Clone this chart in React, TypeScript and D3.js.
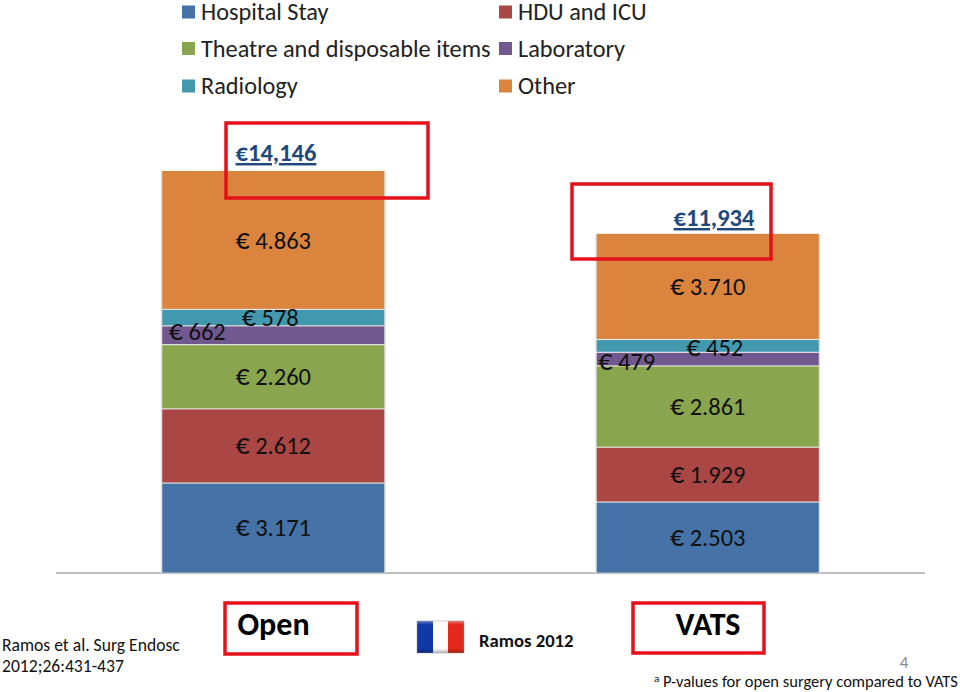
import React from "react";
import * as d3 from "d3";

const groups = ["Open", "VATS"];
const seriesNames = ["Hospital Stay", "HDU and ICU", "Theatre and disposable items", "Laboratory", "Radiology", "Other"];
const seriesColors = ["#4572A7", "#AA4643", "#89A54E", "#71588F", "#4198AF", "#DB843D"];
const openValues = [3171, 2612, 2260, 662, 578, 4863];
const vatsValues = [2503, 1929, 2861, 479, 452, 3710];
const openLabels = ["3.171", "2.612", "2.260", "662", "578", "4.863"];
const vatsLabels = ["2.503", "1.929", "2.861", "479", "452", "3.710"];
const totals = ["€14,146", "€11,934"];

const FONT = "Carlito, Calibri, Lato, 'Open Sans', sans-serif";
const W = 960, H = 692;
const baseY = 573;
const x = d3.scaleBand<string>().domain(groups).range([56, 925]).paddingInner(0.489).paddingOuter(0.2445);
const y = d3.scaleLinear().domain([0, 14146]).range([baseY, 171]);

// label centre offsets (dx, dy) from the centre of each segment
const labelOffsets: [number, number][][] = [
  [[0, 0], [0, 0], [0, 0], [-76, -4], [-3, 0.5], [0, 0.5]],
  [[0, 0], [0, 0], [0, 0], [-81, 2.5], [7, 1.5], [0, -0.5]],
];
const totalPos = [{ x: 276, y: 161 }, { x: 714, y: 226 }];
const redBoxes = [
  { x: 226, y: 123, w: 202, h: 75 },
  { x: 572, y: 184, w: 199, h: 75 },
  { x: 225, y: 603, w: 132, h: 51 },
  { x: 633, y: 603, w: 131, h: 50 },
];
const legendPos = [
  { x: 182, y: 12 }, { x: 499, y: 12 },
  { x: 182, y: 48.5 }, { x: 499, y: 48.5 },
  { x: 182, y: 86 }, { x: 499, y: 86 },
];

function Bar({ gi }: { gi: number }) {
  const vals = gi === 0 ? openValues : vatsValues;
  const labs = gi === 0 ? openLabels : vatsLabels;
  const bx = x(groups[gi])!;
  const bw = x.bandwidth();
  const cum = d3.cumsum(vals);
  return (
    <g>
      <rect x={bx - 1.5} y={y(cum[5])} width={bw + 3} height={baseY - y(cum[5])} fill="#e2e2df" />
      {vals.map((v, i) => {
        const y0 = y(cum[i] - v), y1 = y(cum[i]);
        return <rect key={i} x={bx} y={y1 + (i === 5 ? 0 : 0.8)} width={bw} height={y0 - y1 - (i === 5 ? 0.4 : 1.2)} fill={seriesColors[i]} />;
      })}
      {vals.map((v, i) => {
        const mid = y(cum[i] - v / 2);
        const [dx, dy] = labelOffsets[gi][i];
        return (
          <text key={i} x={bx + bw / 2 + dx} y={mid + dy + 8.5} textAnchor="middle" fontSize={24.5} fill="#111" fontFamily={FONT}>
            <tspan fontSize={28}>€</tspan>{" " + labs[i]}
          </text>
        );
      })}
    </g>
  );
}

export default function App() {
  return (
    <svg width={W} height={H} viewBox={`0 0 ${W} ${H}`} style={{ position: "absolute", left: 0, top: 0, background: "#fff" }}>
      <defs>
        <linearGradient id="flagShade" x1="0" y1="0" x2="0" y2="1">
          <stop offset="0" stopColor="#fff" stopOpacity={0.35} />
          <stop offset="0.12" stopColor="#fff" stopOpacity={0} />
          <stop offset="0.85" stopColor="#000" stopOpacity={0} />
          <stop offset="1" stopColor="#000" stopOpacity={0.3} />
        </linearGradient>
      </defs>
      {seriesNames.map((s, i) => (
        <g key={s}>
          <rect x={legendPos[i].x} y={legendPos[i].y - 6.5} width={13} height={13} fill={seriesColors[i]} />
          <text x={legendPos[i].x + 19} y={legendPos[i].y + 8} fontSize={24.3} fill="#222" fontFamily={FONT}>{s}</text>
        </g>
      ))}
      <line x1={56} x2={925} y1={baseY} y2={baseY} stroke="#a8a8a8" strokeWidth={1.5} />
      {groups.map((g, i) => <Bar key={g} gi={i} />)}
      {totals.map((t, i) => (
        <text key={t} x={totalPos[i].x} y={totalPos[i].y} textAnchor="middle" fontSize={24.5} fontWeight={700} fill="#1F497D" textDecoration="underline" fontFamily={FONT}>{t}</text>
      ))}
      {redBoxes.map((b, i) => (
        <rect key={i} x={b.x} y={b.y} width={b.w} height={b.h} fill="none" stroke="#E5101A" strokeWidth={3.5} />
      ))}
      <text x={273.5} y={635} textAnchor="middle" fontSize={32} fontWeight={700} fill="#000" fontFamily={FONT}>{groups[0]}</text>
      <text x={708} y={635} textAnchor="middle" fontSize={32} fontWeight={700} fill="#000" fontFamily={FONT}>{groups[1]}</text>
      <g>
        <rect x={417} y={621} width={16} height={32} fill="#1238A8" />
        <rect x={433} y={621} width={15} height={32} fill="#FFFFFF" />
        <rect x={448} y={621} width={16} height={32} fill="#E4291A" />
        <rect x={417} y={621} width={47} height={32} fill="url(#flagShade)" stroke="#999" strokeWidth={0.5} />
      </g>
      <text x={479} y={647} fontSize={18.7} fontWeight={700} fill="#111" fontFamily={FONT}>Ramos 2012</text>
      <text x={2} y={651} fontSize={17.6} fill="#111" fontFamily={FONT}>Ramos et al. Surg Endosc</text>
      <text x={2} y={672} fontSize={17.6} fill="#111" fontFamily={FONT}>2012;26:431-437</text>
      <text x={904} y={668} textAnchor="middle" fontSize={17} fill="#8a8a8a" fontFamily={FONT}>4</text>
      <text x={654} y={687} fontSize={16.5} fill="#111" fontFamily={FONT}>
        <tspan fontSize={11} dy={-5}>a</tspan>
        <tspan dy={5}> P-values for open surgery compared to VATS</tspan>
      </text>
    </svg>
  );
}
